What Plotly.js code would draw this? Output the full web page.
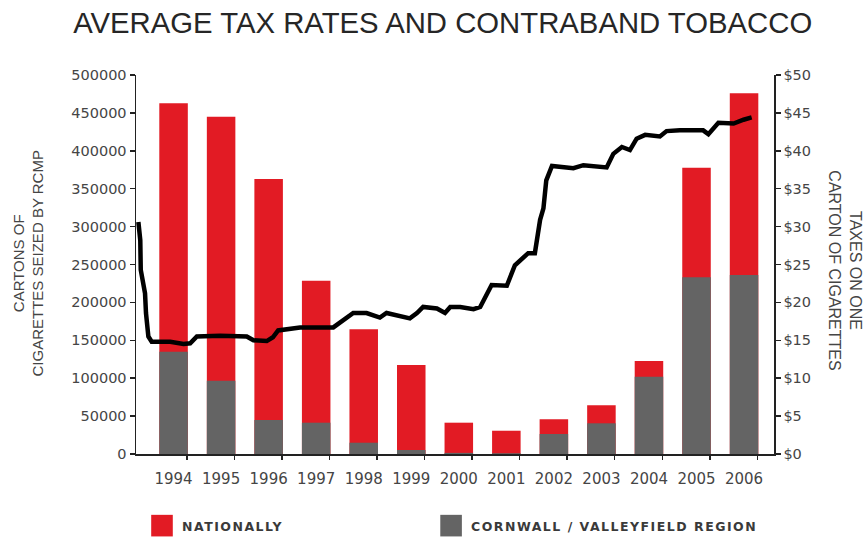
<!DOCTYPE html>
<html>
<head>
<meta charset="utf-8">
<script src="https://cdn.plot.ly/plotly-3.0.1.min.js"></script>
<style>html,body{margin:0;padding:0;background:#fff;}</style>
</head>
<body>
<div id="chart" style="width:868px;height:537px;"></div>
<script>
// ---- data ----
const years = [1994, 1995, 1996, 1997, 1998, 1999, 2000, 2001, 2002, 2003, 2004, 2005, 2006];
const yearLabels = ["1994", "1995", "1996", "1997", "1998", "1999", "2000", "2001", "2002", "2003", "2004", "2005", "2006"];
// cartons seized nationally
const national = [462600, 444900, 362700, 228600, 164500, 117400, 41300, 30700, 45800, 64200, 122700, 377600, 475800];
// cartons seized in the Cornwall / Valleyfield region
const region = [134900, 96700, 44800, 41300, 14900, 5300, 1500, 1000, 26400, 40500, 102000, 233100, 236100];
// average taxes on one carton of cigarettes (dollars)
const taxYears = [1993.26, 1993.30, 1993.31, 1993.37, 1993.40, 1993.42, 1993.47, 1993.54, 1993.93, 1994.21,
  1994.35, 1994.49, 1994.98, 1995.54, 1995.68, 1995.96, 1996.09, 1996.20, 1996.38, 1996.66,
  1997.36, 1997.50, 1997.78, 1998.06, 1998.34, 1998.48, 1998.83, 1998.97, 1999.12, 1999.25,
  1999.54, 1999.71, 1999.82, 2000.03, 2000.31, 2000.45, 2000.69, 2001.01, 2001.18, 2001.46,
  2001.60, 2001.71, 2001.78, 2001.84, 2001.96, 2002.41, 2002.62, 2003.11, 2003.25, 2003.43,
  2003.60, 2003.74, 2003.92, 2004.23, 2004.37, 2004.65, 2005.14, 2005.25, 2005.46, 2005.78,
  2005.99, 2006.16];
const taxValues = [30.6, 28.2, 24.3, 22.5, 21.2, 18.6, 15.5, 14.8, 14.8, 14.5,
  14.6, 15.5, 15.6, 15.5, 15.0, 14.9, 15.4, 16.3, 16.5, 16.7,
  16.7, 17.3, 18.6, 18.6, 18.0, 18.6, 18.2, 17.9, 18.6, 19.4,
  19.2, 18.6, 19.4, 19.4, 19.1, 19.4, 22.3, 22.2, 24.9, 26.5,
  26.5, 30.9, 32.4, 36.1, 38.0, 37.7, 38.1, 37.8, 39.6, 40.5,
  40.1, 41.6, 42.1, 41.9, 42.6, 42.7, 42.7, 42.2, 43.7, 43.6,
  44.1, 44.4];
const leftTicks = [0, 50000, 100000, 150000, 200000, 250000, 300000, 350000, 400000, 450000, 500000];
const leftTickText = ["0", "50000", "100000", "150000", "200000", "250000", "300000", "350000", "400000", "450000", "500000"];
const rightTicks = [0, 5, 10, 15, 20, 25, 30, 35, 40, 45, 50];
const rightTickText = ["$0", "$5", "$10", "$15", "$20", "$25", "$30", "$35", "$40", "$45", "$50"];
const seriesNames = ["NATIONALLY", "CORNWALL / VALLEYFIELD REGION"];

// ---- style ----
const RED = "#e21b24";
const GRAY = "#646464";
const AXIS = "#222222";
const tickFont = {family: "DejaVu Sans, sans-serif", size: 14.5, color: "#454545"};
const legendFont = {family: "DejaVu Sans, sans-serif", size: 12.5, color: "#3a3a3a", weight: "bold"};
const xRange = [1993.21, 2006.63];
const spaced = s => '<span style="letter-spacing:1.5px">' + s + '</span>';

const traces = [
  {
    type: "bar", x: years, y: national, name: spaced(seriesNames[0]), legend: "legend",
    marker: {color: RED, line: {width: 0}}, width: 0.6
  },
  {
    type: "bar", x: years, y: region, name: spaced(seriesNames[1]), legend: "legend2",
    marker: {color: GRAY, line: {width: 0}}, width: 0.6
  },
  {
    type: "scatter", mode: "lines", x: taxYears, y: taxValues, xaxis: "x2", yaxis: "y2",
    line: {color: "#000000", width: 4.5, shape: "linear"}, showlegend: false, name: "Taxes"
  }
];

const legendBase = {
  orientation: "h", xanchor: "left", y: -0.19, yanchor: "middle",
  font: legendFont, bgcolor: "rgba(0,0,0,0)", borderwidth: 0
};

const layout = {
  width: 868, height: 537,
  margin: {l: 136, r: 94, t: 75, b: 83, autoexpand: false},
  paper_bgcolor: "#ffffff", plot_bgcolor: "#ffffff",
  barmode: "overlay",
  showlegend: true,
  title: {
    text: "AVERAGE TAX RATES AND CONTRABAND TOBACCO",
    font: {family: "Liberation Sans, Arial, sans-serif", size: 29.3, color: "#262626"},
    x: 0.51, xref: "container", xanchor: "center",
    y: 0.958, yref: "container", yanchor: "middle"
  },
  xaxis: {
    range: xRange, tickvals: years, ticktext: yearLabels, ticks: "",
    showline: true, linecolor: AXIS, linewidth: 1.5, showgrid: false, zeroline: false,
    tickfont: {family: "DejaVu Sans, sans-serif", size: 15, color: "#454545"},
    ticklabelstandoff: 10, fixedrange: true
  },
  xaxis2: {
    overlaying: "x", anchor: "y", range: xRange,
    tickvals: years.map(v => v + 0.28), ticks: "outside", ticklen: 5, tickwidth: 1.5, tickcolor: AXIS,
    showticklabels: false, showline: false, showgrid: false, zeroline: false, fixedrange: true
  },
  yaxis: {
    range: [0, 500000], tickvals: leftTicks, ticktext: leftTickText,
    ticks: "outside", ticklen: 5, tickwidth: 1.5, tickcolor: AXIS,
    showline: true, linecolor: AXIS, linewidth: 1.5, showgrid: false, zeroline: false,
    tickfont: tickFont, fixedrange: true
  },
  yaxis2: {
    overlaying: "y", side: "right", anchor: "x", range: [0, 50], tickvals: rightTicks, ticktext: rightTickText,
    ticks: "outside", ticklen: 5, tickwidth: 1.5, tickcolor: AXIS,
    showline: true, linecolor: AXIS, linewidth: 1.5, showgrid: false, zeroline: false,
    tickfont: tickFont, fixedrange: true
  },
  legend: Object.assign({}, legendBase, {x: 0.0094}),
  legend2: Object.assign({}, legendBase, {x: 0.4625}),
  annotations: [
    {
      text: "CARTONS OF<br>CIGARETTES SEIZED BY RCMP", xref: "paper", yref: "paper",
      x: -0.1685, y: 0.504, xanchor: "center", yanchor: "middle", textangle: -90, showarrow: false,
      font: {family: "Liberation Sans, Arial, sans-serif", size: 15, color: "#454545"}
    },
    {
      text: "TAXES ON ONE<br>CARTON OF CIGARETTES", xref: "paper", yref: "paper",
      x: 1.111, y: 0.485, xanchor: "center", yanchor: "middle", textangle: 90, showarrow: false,
      font: {family: "Liberation Sans, Arial, sans-serif", size: 16, color: "#454545"}
    }
  ]
};

Plotly.newPlot("chart", traces, layout, {displayModeBar: false, staticPlot: true}).then(function (gd) {
  gd.querySelectorAll(".legendpoints path").forEach(function (p) {
    const old = p.getAttribute("transform") || "";
    p.setAttribute("transform", old + " scale(1.8)");
  });
});
</script>
</body>
</html>
